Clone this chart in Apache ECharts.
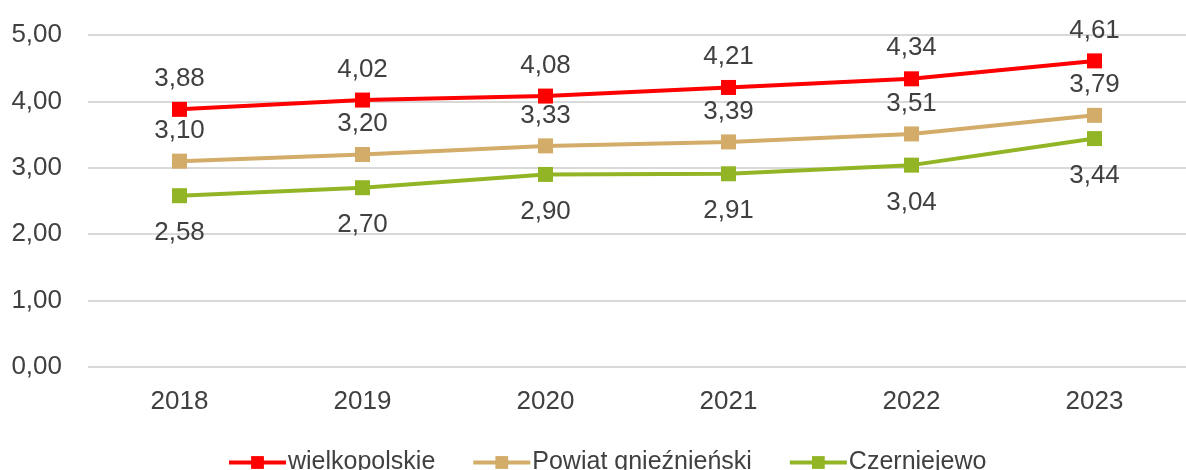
<!DOCTYPE html>
<html>
<head>
<meta charset="utf-8">
<script src="https://cdn.jsdelivr.net/npm/echarts@6/dist/echarts.min.js"></script>
<style>
  html, body { margin: 0; padding: 0; background: #fff; }
  #chart { width: 1186px; height: 470px; }
</style>
</head>
<body>
<div id="chart"></div>
<script>
var years = ['2018', '2019', '2020', '2021', '2022', '2023']
var wielkopolskie = [3.88, 4.02, 4.08, 4.21, 4.34, 4.61]
var powiat = [3.10, 3.20, 3.33, 3.39, 3.51, 3.79]
var czerniejewo = [2.58, 2.70, 2.90, 2.91, 3.04, 3.44]

var fontFamily = '"Liberation Sans", Arial, sans-serif'
var textColor = '#404040'

function fmt(v) {
  return v.toFixed(2).replace('.', ',')
}

function makeSeries(name, data, color, labelPos, dist) {
  return {
    name: name,
    type: 'line',
    data: data,
    symbol: 'rect',
    symbolSize: 15,
    lineStyle: { color: color, width: 4 },
    itemStyle: { color: color },
    label: {
      show: true,
      position: labelPos,
      distance: dist,
      color: textColor,
      fontSize: 26,
      fontFamily: fontFamily,
      formatter: function(p) { return fmt(p.value) }
    },
    animation: false
  }
}

var chart = echarts.init(document.getElementById('chart'))
chart.setOption({
  backgroundColor: '#fff',
  grid: {
    left: 88,
    right: -12,
    top: 35,
    bottom: 103
  },
  legend: {
    bottom: -10,
    left: 222,
    itemGap: 36,
    itemWidth: 57,
    itemHeight: 16,
    lineStyle: { width: 4 },
    textStyle: {
      color: textColor,
      fontSize: 25,
      fontFamily: fontFamily,
      padding: [0, 0, 0, -3]
    },
    data: ['wielkopolskie', 'Powiat gnieźnieński', 'Czerniejewo']
  },
  xAxis: {
    type: 'category',
    data: years,
    boundaryGap: true,
    axisLine: { show: false },
    axisTick: { show: false },
    axisLabel: {
      color: textColor,
      fontSize: 26,
      fontFamily: fontFamily,
      margin: 22
    }
  },
  yAxis: {
    type: 'value',
    min: 0,
    max: 5,
    interval: 1,
    axisLine: { show: false },
    axisTick: { show: false },
    splitLine: { lineStyle: { color: '#d9d9d9', width: 2 } },
    axisLabel: {
      color: textColor,
      fontSize: 26,
      fontFamily: fontFamily,
      margin: 26,
      formatter: function(v) { return fmt(v) }
    }
  },
  series: [
    makeSeries('wielkopolskie', wielkopolskie, '#ff0000', 'top', 10),
    makeSeries('Powiat gnieźnieński', powiat, '#d2ac68', 'top', 10),
    makeSeries('Czerniejewo', czerniejewo, '#92b526', 'bottom', 17)
  ]
})
</script>
</body>
</html>
